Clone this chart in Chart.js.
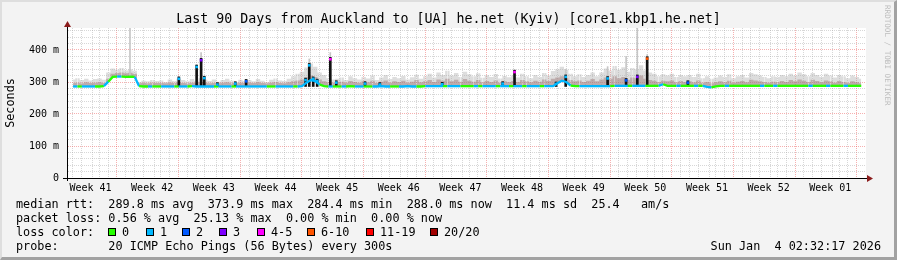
<!DOCTYPE html>
<html>
<head>
<meta charset="utf-8">
<script src="https://cdn.jsdelivr.net/npm/chart.js@4.4.1/dist/chart.umd.min.js"></script>
<style>
  body { margin: 0; background: #f3f3f3; }
  #wrap { position: relative; width: 897px; height: 260px; background: #f3f3f3; overflow: hidden;
          font-family: "DejaVu Sans Mono", monospace; color: #000; }
  #wrap:after { content: ""; position: absolute; left: 0; top: 0; right: 0; bottom: 0; pointer-events: none;
          border-top: 2px solid #dedede; border-left: 2px solid #dedede;
          border-right: 3px solid #a2a2a2; border-bottom: 3px solid #a2a2a2; }
  canvas { position: absolute; left: 0; top: 0; }
  .title { position: absolute; left: 0; top: 11px; width: 897px; text-align: center;
           font-size: 13.3px; line-height: 16px; white-space: pre; }
  .row { position: absolute; left: 16px; font-size: 11.8px; line-height: 14px; white-space: pre; }
  .box { position: absolute; top: 228px; width: 8px; height: 8px; box-sizing: border-box; border: 1px solid #000; }
  .lbl { position: absolute; top: 225px; font-size: 11.8px; line-height: 14px; white-space: pre; }
  .stamp { position: absolute; right: 16px; top: 239px; font-size: 11.8px; line-height: 14px; white-space: pre; }
  .credit { position: absolute; left: 883px; top: 5px; writing-mode: vertical-rl; font-size: 7.6px;
            line-height: 9px; color: #bdbdbd; white-space: pre; }
</style>
</head>
<body>
<div id="wrap">
  <canvas id="c" width="897" height="260"></canvas>
  <div class="title">Last 90 Days from Auckland to [UA] he.net (Kyiv) [core1.kbp1.he.net]</div>
  <div class="row" style="top:197px">median rtt:  289.8 ms avg  373.9 ms max  284.4 ms min  288.0 ms now  11.4 ms sd  25.4   am/s</div>
  <div class="row" style="top:211px">packet loss: 0.56 % avg  25.13 % max  0.00 % min  0.00 % now</div>
  <div class="row" style="top:225px">loss color:</div>
  <div class="row" style="top:239px">probe:       20 ICMP Echo Pings (56 Bytes) every 300s</div>
  <div class="stamp">Sun Jan  4 02:32:17 2026</div>
  <div class="credit">RRDTOOL / TOBI OETIKER</div>
  <div id="losskey"></div>
</div>
<script>
// loss classes: 0, 1, 2, 3, 4-5, 6-10, 11-19, 20/20
const lossColors = ['#26ff00', '#00b8ff', '#0059ff', '#7e00ff', '#ff00ff', '#ff5500', '#ff0000', '#a10000'];
const lossLabels = ['0', '1', '2', '3', '4-5', '6-10', '11-19', '20/20'];
const lossKeyX = [108, 146, 182, 219, 257, 307, 366, 430];

const weekLabels = ['Week 41', 'Week 42', 'Week 43', 'Week 44', 'Week 45', 'Week 46', 'Week 47',
                    'Week 48', 'Week 49', 'Week 50', 'Week 51', 'Week 52', 'Week 01'];
const yTicks = [0, 20, 40, 60, 80, 100, 120, 140, 160, 180, 200, 220, 240, 260, 280,
                300, 320, 340, 360, 380, 400, 420, 440, 460];
const firstWeekLine = 5.73;  // days from left edge
const xMax = 89.85;
const yMax = 468.75;

// half-day bins, ms
const median = [
  286,286,286,286,286,286,286,287,301,316,317,317,316,317,316,287,286,286,286,286,
  286,286,286,286,286,286,286,287,286,286,286,286,286,286,286,286,286,286,286,286,
  286,286,286,286,286,286,286,286,286,286,286,286,287,298,306,303,292,287,286,286,
  286,286,286,287,286,286,286,286,286,286,287,286,286,286,286,286,287,286,286,286,
  287,287,287,287,287,287,287,287,287,287,287,287,287,287,287,287,287,287,287,287,
  287,287,287,287,287,287,287,287,287,287,296,304,300,289,287,287,287,287,287,287,
  287,287,287,288,288,288,288,288,288,288,288,288,288,288,293,288,288,288,288,288,
  288,288,288,288,285,283,286,288,288,288,288,288,288,288,288,288,288,288,288,288,
  288,288,288,288,288,288,288,288,288,288,288,288,288,288,288,288,288,288,288,288
];
const loss = [
  1,1,0,1,1,1,0,0,1,0,0,1,0,0,0,1,0,0,1,0,
  0,1,1,1,0,1,1,0,1,1,1,1,1,0,1,1,1,0,1,1,
  1,1,1,1,1,0,0,1,1,1,1,0,1,1,1,1,1,0,0,1,
  0,0,1,0,0,1,1,0,0,1,1,1,1,0,0,1,1,1,1,0,
  0,1,1,1,1,0,1,1,1,0,0,0,1,0,1,1,1,0,1,1,
  0,1,1,0,1,1,1,0,1,1,1,1,1,1,0,0,1,1,1,1,
  1,1,1,0,1,1,1,0,1,1,1,0,0,0,1,0,0,0,1,0,
  0,0,1,0,1,1,0,0,0,1,0,0,0,0,0,0,0,1,0,0,
  1,0,0,0,0,0,0,0,1,0,0,0,1,0,0,0,1,0,0,0
];
const smokeHi = [
  308,312,306,310,305,309,311,307,330,342,338,344,336,340,335,300,304,302,306,303,
  305,300,308,303,310,306,302,309,304,312,307,303,308,301,306,310,304,300,307,303,
  306,302,309,304,300,307,311,305,303,310,318,326,332,345,358,348,330,322,312,308,
  310,314,306,318,312,308,316,311,320,306,314,322,309,316,312,319,308,315,323,310,
  318,326,314,330,322,335,320,328,316,332,324,318,327,313,321,316,325,311,319,315,
  320,314,326,318,312,322,316,328,320,334,340,348,338,326,318,324,316,322,330,318,
  330,342,336,350,338,346,332,344,340,352,336,330,326,318,324,320,326,316,322,318,
  322,316,326,312,318,310,314,320,316,324,312,318,322,314,328,324,320,316,312,318,
  316,322,318,326,320,330,324,318,328,322,316,326,320,314,322,318,312,320,316,310
];
const smokeMid = [
  297,298,296,299,297,298,299,297,310,326,328,330,327,329,326,296,297,296,298,297,
  297,296,298,297,299,297,296,298,297,300,298,296,297,296,298,299,297,296,298,297,
  298,297,299,297,296,298,300,297,296,299,302,305,308,315,320,316,308,302,299,298,
  299,301,298,303,300,298,302,299,304,297,301,305,298,302,300,304,298,301,306,299,
  302,306,300,308,304,310,302,307,301,309,304,301,306,299,303,300,305,298,302,300,
  303,300,306,302,299,304,301,308,303,310,314,318,312,306,302,305,300,304,309,302,
  308,314,310,318,312,316,307,314,312,320,310,306,304,300,304,302,305,299,303,300,
  302,299,305,298,300,296,299,302,299,304,298,301,303,299,307,305,302,300,298,301,
  299,303,300,306,302,308,304,300,307,303,299,305,302,298,303,300,297,302,299,296
];

// dense single-sample bursts (day, top ms, loss class at median)
const spikeDay  = [12.26, 14.28, 14.79, 15.15, 16.64, 18.67, 19.90, 26.65, 27.07, 27.52, 27.97, 29.46, 30.14,
                   33.40, 35.08, 42.17, 49.03, 50.38, 55.10, 56.19, 60.95, 63.05, 64.32, 65.44, 70.06];
const spikeTop  = [316, 353, 374, 318, 298, 301, 308, 312, 358, 316, 309, 377, 304,
                   301, 298, 299, 301, 337, 300, 322, 317, 311, 322, 379, 304];
const spikeLoss = [1, 1, 3, 1, 1, 1, 2, 1, 1, 1, 1, 4, 1, 1, 1, 1, 1, 4, 1, 1, 1, 2, 3, 5, 2];

// faint outlier pings
const outDay = [6.71, 14.79, 27.07, 29.46, 56.19, 60.95, 63.05, 64.32, 65.44];
const outLo  = [317, 374, 358, 377, 322, 317, 311, 322, 379];
const outHi  = [468, 392, 372, 392, 340, 348, 380, 468, 386];

const binX = i => i * 0.5 + 0.25;

// loss colour key
const key = document.getElementById('losskey');
lossLabels.forEach((t, i) => {
  const b = document.createElement('span');
  b.className = 'box';
  b.style.left = lossKeyX[i] + 'px';
  b.style.background = lossColors[i];
  key.appendChild(b);
  const s = document.createElement('span');
  s.className = 'lbl';
  s.style.left = (lossKeyX[i] + 14) + 'px';
  s.textContent = t;
  key.appendChild(s);
});

const xTicks = [];
for (let d = 0; d < 90; d++) {
  const v = firstWeekLine - 5 + d;
  if (v <= xMax) xTicks.push({ value: v, kind: d % 7 === 5 ? 'week' : 'day' });
}
weekLabels.forEach((w, k) => xTicks.push({ value: firstWeekLine - 3.5 + 7 * k, kind: 'mid', name: w }));
xTicks.sort((a, b) => a.value - b.value);

const redGrid = 'rgba(235,80,80,0.45)';
const grayGrid = 'rgba(160,160,160,0.42)';
const mono = 'DejaVu Sans Mono';

const frame = {
  id: 'frame',
  beforeDraw(chart) {
    const { ctx, chartArea: a } = chart;
    ctx.save();
    ctx.fillStyle = '#ffffff';
    ctx.fillRect(a.left, a.top, a.right - a.left, a.bottom - a.top);
    ctx.restore();
  },
  afterDraw(chart) {
    const { ctx, chartArea: a } = chart;
    ctx.save();
    ctx.strokeStyle = '#000';
    ctx.lineWidth = 1;
    ctx.beginPath();
    ctx.moveTo(a.left + 0.5, a.bottom + 3);
    ctx.lineTo(a.left + 0.5, a.top - 4);
    ctx.moveTo(a.left - 4, a.bottom + 0.5);
    ctx.lineTo(a.right + 3, a.bottom + 0.5);
    ctx.stroke();
    ctx.fillStyle = '#8b1c1c';
    ctx.beginPath();
    ctx.moveTo(a.left + 0.5, a.top - 7);
    ctx.lineTo(a.left - 3, a.top - 1);
    ctx.lineTo(a.left + 4, a.top - 1);
    ctx.fill();
    ctx.beginPath();
    ctx.moveTo(a.right + 7, a.bottom + 0.5);
    ctx.lineTo(a.right + 1, a.bottom - 3);
    ctx.lineTo(a.right + 1, a.bottom + 4);
    ctx.fill();
    ctx.restore();
  }
};

new Chart(document.getElementById('c'), {
  data: {
    datasets: [
      {
        type: 'line', label: 'median rtt',
        data: median.map((v, i) => ({ x: binX(i), y: v })),
        borderWidth: 2.3, pointRadius: 0, tension: 0, fill: false,
        borderColor: lossColors[1],
        segment: { borderColor: c => lossColors[loss[c.p1DataIndex]] },
        order: 1
      },
      {
        type: 'bar', label: 'burst median',
        data: spikeDay.map((d, i) => ({ x: d, y: [spikeTop[i] - 9, spikeTop[i] - 3] })),
        backgroundColor: spikeLoss.map(l => lossColors[l]),
        barThickness: 2, grouped: false, order: 0
      },
      {
        type: 'bar', label: 'burst',
        data: spikeDay.map((d, i) => ({ x: d, y: [286, spikeTop[i]] })),
        backgroundColor: '#111111', barThickness: 2, grouped: false, order: 3
      },
      {
        type: 'bar', label: 'outliers',
        data: outDay.map((d, i) => ({ x: d, y: [outLo[i], outHi[i]] })),
        backgroundColor: '#c6c6c6', barThickness: 1, grouped: false, order: 4
      },
      {
        type: 'line', label: 'smoke dense',
        data: smokeMid.map((v, i) => ({ x: binX(i), y: v })),
        stepped: 'middle', borderWidth: 0, borderColor: 'rgba(0,0,0,0)', pointRadius: 0,
        fill: 0, backgroundColor: 'rgba(150,112,112,0.45)', order: 5
      },
      {
        type: 'line', label: 'smoke',
        data: smokeHi.map((v, i) => ({ x: binX(i), y: v })),
        stepped: 'middle', borderWidth: 0, borderColor: 'rgba(0,0,0,0)', pointRadius: 0,
        fill: 0, backgroundColor: 'rgba(175,175,175,0.42)', order: 6
      }
    ]
  },
  options: {
    responsive: false,
    animation: false,
    events: [],
    layout: { padding: { left: 0, top: 28, right: 31, bottom: 62 } },
    plugins: { legend: { display: false }, tooltip: { enabled: false } },
    scales: {
      x: {
        type: 'linear', min: 0, max: xMax,
        afterBuildTicks: s => { s.ticks = xTicks.map(t => Object.assign({}, t)); },
        afterFit: s => { s.height = 20; },
        grid: {
          drawTicks: false,
          color: c => c.tick && c.tick.kind === 'week' ? redGrid : (c.tick && c.tick.kind === 'day' ? grayGrid : 'rgba(0,0,0,0)')
        },
        border: { display: true, color: '#000', width: 1, dash: [1, 1] },
        ticks: {
          autoSkip: false, maxRotation: 0, minRotation: 0, padding: 4, color: '#000',
          font: { family: mono, size: 10 },
          callback: (v, i, t) => (t[i] && t[i].name) ? t[i].name : ''
        }
      },
      y: {
        min: 0, max: yMax,
        afterBuildTicks: s => { s.ticks = yTicks.map(v => ({ value: v })); },
        afterFit: s => { s.width = 67; },
        grid: {
          drawTicks: false,
          color: c => (c.tick && c.tick.value % 100 === 0) ? redGrid : grayGrid
        },
        border: { display: true, color: '#000', width: 1, dash: [1, 1] },
        ticks: {
          autoSkip: false, padding: 8, color: '#000',
          font: { family: mono, size: 10 },
          callback: v => v === 0 ? '0' : (v % 100 === 0 ? v + ' m' : '')
        },
        title: {
          display: true, text: 'Seconds', color: '#000',
          font: { family: mono, size: 11.8 }, padding: { top: 4, bottom: 0 }
        }
      }
    }
  },
  plugins: [frame]
});
</script>
</body>
</html>
